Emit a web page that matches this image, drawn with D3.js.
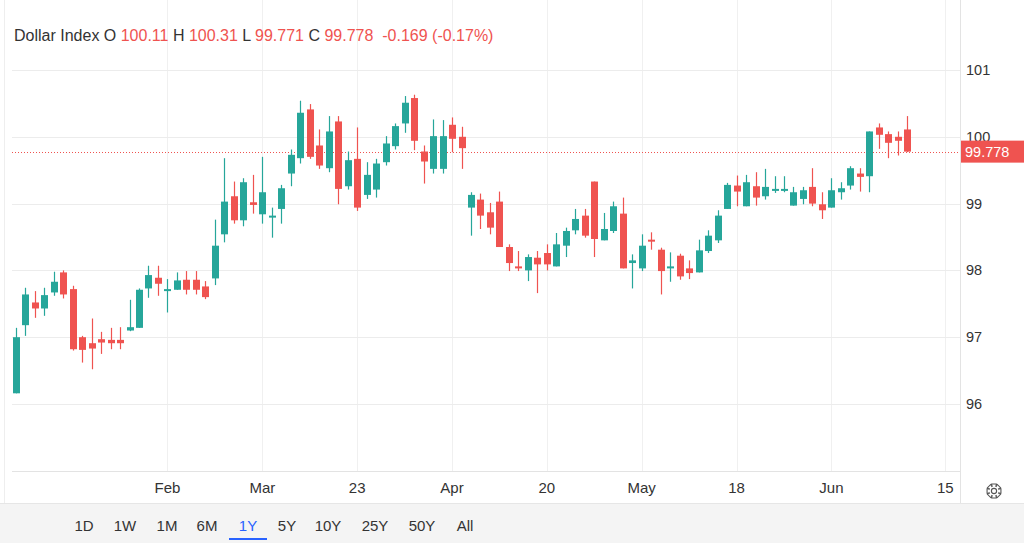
<!DOCTYPE html>
<html>
<head>
<meta charset="utf-8">
<title>Dollar Index</title>
<script src="https://d3js.org/d3.v7.min.js"></script>
<style>
  html, body { margin: 0; padding: 0; background: #fff; }
  #vis { width: 1024px; height: 545px; }
  text { font-family: "Liberation Sans", Arial, sans-serif; }
</style>
</head>
<body>
<div class="vis" id="vis"></div>
<script>

// candle values (oldest first)
const opens = [96.16, 97.18, 97.52, 97.43, 97.67, 97.97, 97.72, 97.00, 96.91, 96.97,
  96.96, 96.96, 97.10, 97.14, 97.73, 97.89, 97.70, 97.71, 97.86, 97.86,
  97.76, 97.88, 98.54, 99.11, 98.75, 99.02, 98.84, 98.79, 98.92, 99.45,
  99.68, 100.41, 99.87, 99.53, 100.23, 99.26, 99.67, 99.13, 99.21, 99.62,
  99.86, 100.20, 100.58, 99.78, 99.52, 99.52, 100.18, 100.00, 98.94, 99.06,
  98.87, 99.03, 98.35, 98.06, 98.00, 98.19, 98.26, 98.06, 98.37, 98.60,
  98.82, 99.33, 98.45, 98.59, 98.85, 98.11, 98.03, 98.46, 98.31, 98.03,
  98.22, 98.03, 97.97, 98.29, 98.45, 98.92, 99.27, 98.96, 99.26, 99.11,
  99.20, 99.20, 98.97, 99.07, 99.25, 98.99, 98.94, 99.17, 99.27, 99.45,
  99.41, 100.14, 100.04, 100.00, 100.11];
const highs = [97.14, 97.74, 97.69, 97.74, 97.98, 98.00, 97.77, 97.02, 97.28, 97.08,
  97.14, 97.15, 97.56, 97.73, 98.07, 98.07, 97.87, 97.97, 97.99, 97.99,
  97.84, 98.76, 99.68, 99.33, 99.38, 99.43, 99.70, 98.94, 99.28, 99.81,
  100.54, 100.49, 100.11, 100.31, 100.31, 99.78, 100.14, 99.62, 99.67, 100.01,
  100.20, 100.61, 100.63, 99.87, 100.26, 100.25, 100.29, 100.15, 99.17, 99.15,
  99.01, 99.18, 98.39, 98.29, 98.24, 98.29, 98.39, 98.56, 98.64, 98.92,
  98.92, 99.33, 98.86, 99.03, 99.09, 98.24, 98.54, 98.57, 98.34, 98.27,
  98.25, 98.15, 98.46, 98.60, 98.90, 99.31, 99.42, 99.43, 99.47, 99.52,
  99.41, 99.41, 99.25, 99.25, 99.53, 99.17, 99.38, 99.32, 99.56, 99.53,
  100.08, 100.20, 100.08, 100.08, 100.31];
const lows = [96.16, 97.02, 97.29, 97.32, 97.62, 97.58, 96.80, 96.62, 96.52, 96.75,
  96.82, 96.82, 97.09, 97.14, 97.59, 97.62, 97.37, 97.71, 97.64, 97.64,
  97.57, 97.78, 98.42, 98.70, 98.66, 98.85, 98.70, 98.49, 98.70, 99.26,
  99.60, 99.67, 99.52, 99.47, 98.99, 99.21, 98.89, 99.07, 99.09, 99.57,
  99.81, 100.06, 99.80, 99.30, 99.45, 99.45, 99.77, 99.52, 98.52, 98.62,
  98.54, 98.35, 97.99, 97.99, 97.84, 97.66, 98.00, 98.06, 98.20, 98.54,
  98.49, 98.20, 98.45, 98.56, 98.03, 97.73, 97.99, 98.31, 97.64, 97.83,
  97.86, 97.87, 97.97, 98.26, 98.41, 98.92, 98.96, 98.96, 98.97, 99.06,
  99.16, 99.17, 98.97, 98.99, 98.96, 98.77, 98.94, 99.06, 99.21, 99.18,
  99.17, 99.82, 99.68, 99.72, 99.771];
const closes = [97.00, 97.64, 97.43, 97.63, 97.83, 97.64, 96.82, 96.81, 96.83, 96.92,
  96.91, 96.91, 97.15, 97.71, 97.93, 97.80, 97.72, 97.85, 97.71, 97.71,
  97.60, 98.37, 99.03, 98.75, 99.32, 98.98, 99.17, 98.82, 99.23, 99.73,
  100.36, 99.70, 99.57, 100.08, 99.22, 99.65, 98.94, 99.43, 99.60, 99.90,
  100.16, 100.51, 99.94, 99.63, 100.01, 100.01, 99.97, 99.83, 99.13, 98.82,
  98.64, 98.35, 98.11, 98.03, 98.20, 98.09, 98.09, 98.39, 98.59, 98.77,
  98.52, 98.47, 98.62, 98.96, 98.03, 98.15, 98.37, 98.44, 97.99, 98.06,
  97.91, 97.96, 98.30, 98.52, 98.82, 99.28, 99.18, 99.32, 99.09, 99.25,
  99.22, 99.22, 99.17, 99.20, 99.00, 98.90, 99.20, 99.23, 99.53, 99.40,
  100.08, 100.03, 99.91, 99.94, 99.778];

// x axis: candle slot of each label
const tickSlots = [16, 26, 36, 46, 56, 66, 76, 86, 98];
const tickLabels = ["Feb", "Mar", "23", "Apr", "20", "May", "18", "Jun", "15"];
const priceTicks = [96, 97, 98, 99, 100, 101];
const ranges = ["1D", "1W", "1M", "6M", "1Y", "5Y", "10Y", "25Y", "50Y", "All"];
const activeRange = "1Y";
const dayChange = "-0.169 (-0.17%)";

const upColor = "#26a69a";
const downColor = "#ef5350";

const candles = opens.map((o, i) => ({i: i, o: o, h: highs[i], l: lows[i], c: closes[i]}));
const last = candles[candles.length - 1];

const plotRight = 960, plotBottom = 471;

const svg = d3.select("#vis").append("svg")
  .attr("width", 1024)
  .attr("height", 545);

const x = d3.scaleLinear().domain([0, candles.length - 1]).range([15.7, 907.3]);
const y = d3.scaleLinear().domain([96, 101]).range([404, 70]);
const bodyW = 7;

// grid
svg.append("g")
  .selectAll("line")
  .data(tickSlots)
  .join("line")
  .attr("x1", d => Math.round(x(d)) + 0.5)
  .attr("x2", d => Math.round(x(d)) + 0.5)
  .attr("y1", 0)
  .attr("y2", plotBottom)
  .attr("stroke", "#f0f0f0");

svg.append("g")
  .selectAll("line")
  .data(priceTicks)
  .join("line")
  .attr("x1", 12)
  .attr("x2", plotRight)
  .attr("y1", d => Math.round(y(d)) + 0.5)
  .attr("y2", d => Math.round(y(d)) + 0.5)
  .attr("stroke", "#ececec");

// frame lines
svg.append("line").attr("x1", 4.5).attr("x2", 4.5).attr("y1", 0).attr("y2", 503).attr("stroke", "#eeeeee");
svg.append("line").attr("x1", plotRight + 0.5).attr("x2", plotRight + 0.5).attr("y1", 0).attr("y2", 503).attr("stroke", "#e3e3e3");
svg.append("line").attr("x1", 12).attr("x2", plotRight).attr("y1", plotBottom + 0.5).attr("y2", plotBottom + 0.5).attr("stroke", "#e3e3e3");

// last price line
svg.append("line")
  .attr("x1", 12)
  .attr("x2", plotRight)
  .attr("y1", Math.round(y(last.c)) + 0.5)
  .attr("y2", Math.round(y(last.c)) + 0.5)
  .attr("stroke", downColor)
  .attr("stroke-width", 1)
  .attr("stroke-dasharray", "1,2");

// candles
const cg = svg.append("g");
cg.selectAll("line")
  .data(candles)
  .join("line")
  .attr("x1", d => Math.round(x(d.i)) + 0.5)
  .attr("x2", d => Math.round(x(d.i)) + 0.5)
  .attr("y1", d => y(d.h))
  .attr("y2", d => y(d.l))
  .attr("stroke", d => d.c >= d.o ? upColor : downColor)
  .attr("stroke-width", 1.2);

cg.selectAll("rect")
  .data(candles)
  .join("rect")
  .attr("x", d => Math.round(x(d.i)) + 0.5 - bodyW / 2)
  .attr("y", d => y(Math.max(d.o, d.c)))
  .attr("width", bodyW)
  .attr("height", d => Math.max(2, Math.abs(y(d.o) - y(d.c))))
  .attr("fill", d => d.c >= d.o ? upColor : downColor);

// right axis
svg.append("g")
  .selectAll("text")
  .data(priceTicks)
  .join("text")
  .attr("x", 966)
  .attr("y", d => y(d) + 5)
  .attr("font-size", 14.5)
  .attr("fill", "#333")
  .text(d => d);

// last price tag
svg.append("rect")
  .attr("x", plotRight + 1)
  .attr("y", y(last.c) - 11)
  .attr("width", 1024 - plotRight - 1)
  .attr("height", 22)
  .attr("fill", downColor);
svg.append("text")
  .attr("x", 965)
  .attr("y", y(last.c) + 5)
  .attr("font-size", 14.5)
  .attr("fill", "#fff")
  .text(last.c.toFixed(3));

// bottom axis
svg.append("g")
  .selectAll("text")
  .data(tickSlots)
  .join("text")
  .attr("x", d => x(d))
  .attr("y", 493)
  .attr("text-anchor", "middle")
  .attr("font-size", 15)
  .attr("fill", "#333")
  .text((d, i) => tickLabels[i]);

// settings gear
const gear = svg.append("g").attr("transform", "translate(994,491)");
const teeth = d3.range(8).map(k => k * Math.PI / 4);
gear.append("path")
  .attr("d", () => {
    let p = "";
    teeth.forEach((a, k) => {
      const r1 = 5.2, r2 = 7.3, w = 0.32;
      const pts = [[r1, a - w * 1.4], [r2, a - w], [r2, a + w], [r1, a + w * 1.4]];
      pts.forEach((q, j) => {
        p += (k === 0 && j === 0 ? "M" : "L") + (q[0] * Math.cos(q[1])).toFixed(2) + "," + (q[0] * Math.sin(q[1])).toFixed(2);
      });
    });
    return p + "Z";
  })
  .attr("fill", "none")
  .attr("stroke", "#555")
  .attr("stroke-width", 1.1);
gear.append("circle").attr("r", 2.6).attr("fill", "none").attr("stroke", "#555").attr("stroke-width", 1.1);

// range bar
svg.append("rect").attr("x", 0).attr("y", 503).attr("width", 1024).attr("height", 40).attr("fill", "#f4f4f4");
svg.append("line").attr("x1", 0).attr("x2", 1024).attr("y1", 503.5).attr("y2", 503.5).attr("stroke", "#e6e6e6");

const rangePos = [84, 125, 167, 207, 248, 287, 328, 375, 422, 465];
svg.append("g")
  .selectAll("text")
  .data(ranges)
  .join("text")
  .attr("x", (d, i) => rangePos[i])
  .attr("y", 531)
  .attr("text-anchor", "middle")
  .attr("font-size", 15)
  .attr("fill", d => d === activeRange ? "#2962ff" : "#333")
  .text(d => d);
svg.append("rect").attr("x", 229).attr("y", 538).attr("width", 38).attr("height", 2).attr("fill", "#2962ff");

// header legend
const fmt = v => (Math.abs(v) >= 100 ? v.toFixed(2) : v.toFixed(3));
const header = svg.append("text").attr("x", 14).attr("y", 41).attr("font-size", 16).attr("fill", "#333");
const parts = [
  ["Dollar Index O ", "#333"], [fmt(last.o), downColor],
  [" H ", "#333"], [fmt(last.h), downColor],
  [" L ", "#333"], [fmt(last.l), downColor],
  [" C ", "#333"], [fmt(last.c), downColor],
  ["\u00a0\u00a0" + dayChange, downColor]
];
header.selectAll("tspan")
  .data(parts)
  .join("tspan")
  .attr("fill", d => d[1])
  .text(d => d[0]);

</script>
</body>
</html>
